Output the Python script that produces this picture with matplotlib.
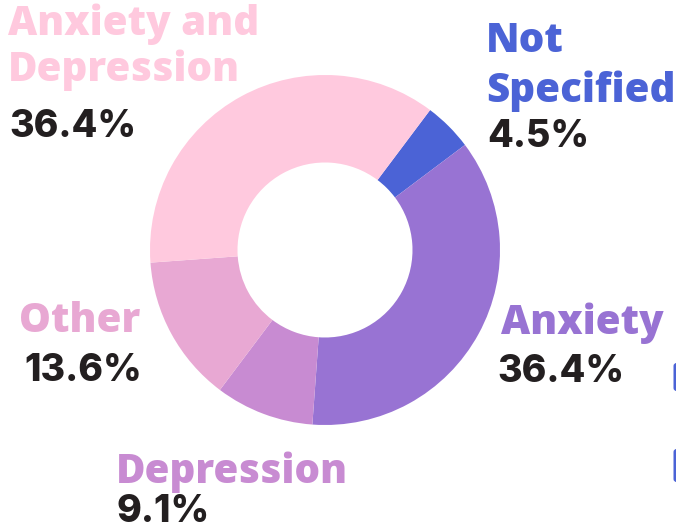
import matplotlib
matplotlib.use("Agg")
import matplotlib.pyplot as plt
from matplotlib.patches import FancyBboxPatch

categories = ["Not Specified", "Anxiety", "Depression", "Other", "Anxiety and Depression"]
values = [4.5, 36.4, 9.1, 13.6, 36.4]
colors = ["#4B63D6", "#9873D3", "#C88BD2", "#E8A8D3", "#FFC9DE"]
pct_labels = ["4.5%", "36.4%", "9.1%", "13.6%", "36.4%"]

W, H = 676, 531
fig = plt.figure(figsize=(W / 100, H / 100), dpi=100)
ax = fig.add_axes([0, 0, 1, 1])

cx, cy, R = 325, H - 250, 175
ax.pie(values, colors=colors, startangle=53.1, counterclock=False,
       center=(cx, cy), radius=R, frame=True,
       wedgeprops=dict(width=R * 0.5, linewidth=0))
ax.set_xlim(0, W)
ax.set_ylim(0, H)
ax.set_aspect("equal")
ax.axis("off")

LF = dict(family=["Open Sans", "DejaVu Sans"], weight=800, fontsize=29)
NF = dict(family=["Inter", "DejaVu Sans"], weight=800, fontsize=27, color="#231F20")

def lab(x, base, s, color):
    ax.text(x, H - base, s, color=color, va="baseline", ha="left", **LF)

def num(x, base, s):
    ax.text(x, H - base, s, va="baseline", ha="left", **NF)

# Anxiety and Depression
lab(8, 35, "Anxiety and", colors[4])
lab(8, 81, "Depression", colors[4])
num(9, 137, pct_labels[4])
# Not Specified
lab(486, 52, "Not", colors[0])
lab(486, 102, "Specified", colors[0])
num(487, 147, pct_labels[0])
# Anxiety
lab(501, 334, "Anxiety", colors[1])
num(497, 382, pct_labels[1])
# Other
lab(19, 332, "Other", colors[3])
num(24, 381, pct_labels[3])
# Depression
lab(116, 483, "Depression", colors[2])
num(116, 522, pct_labels[2])

# partially visible markers at the right edge
for ytop, ybot in [(363, 391), (449, 482)]:
    ax.add_patch(FancyBboxPatch((673.5, H - ybot), 6, ybot - ytop,
                                boxstyle="round,pad=0,rounding_size=3",
                                fc="#4B63D6", ec="none", clip_on=True))

fig.savefig("out.png", dpi=100)
